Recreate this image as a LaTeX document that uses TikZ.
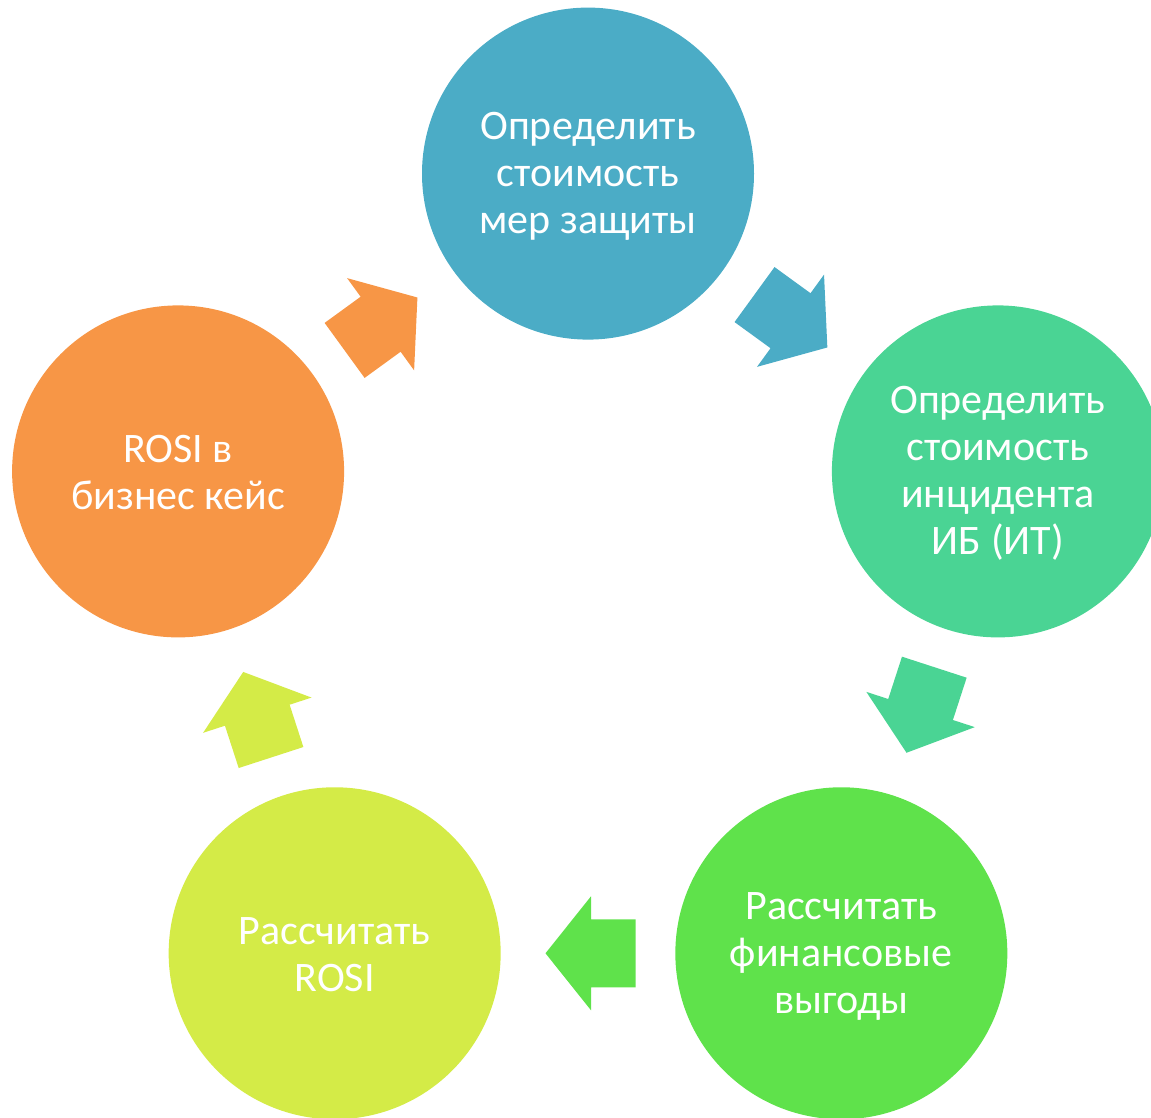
\documentclass[tikz,border=0pt]{standalone}
\usepackage{fontspec}
\setmainfont{Carlito}
\definecolor{cA}{HTML}{4BACC6}
\definecolor{cB}{HTML}{4AD494}
\definecolor{cC}{HTML}{5FE24B}
\definecolor{cD}{HTML}{D4EB47}
\definecolor{cE}{HTML}{F79646}
\tikzset{
  circ/.style={circle, minimum size=332pt, inner sep=0pt, draw=none},
  txt/.style={inner sep=0pt, text=white, align=center, font=\fontsize{42}{47}\selectfont},
  blockarrow/.pic={\fill (-47.5pt,-34pt) -- (-3pt,-34pt) -- (-3pt,-57pt) -- (42.5pt,0pt) -- (-3pt,57pt) -- (-3pt,34pt) -- (-47.5pt,34pt) -- cycle;}
}
\begin{document}
\begin{tikzpicture}
\useasboundingbox (0,0) rectangle (1151pt,1117pt);
\clip (0,0) rectangle (1151pt,1117pt);
\coordinate (O) at (588pt,512.4pt);
\node[circ, fill=cA] (n1) at ([shift={(90:431pt)}]O) {};
\node[circ, fill=cB] (n2) at ([shift={(18:431pt)}]O) {};
\node[circ, fill=cC] (n3) at ([shift={(-54:431pt)}]O) {};
\node[circ, fill=cD] (n4) at ([shift={(-126:431pt)}]O) {};
\node[circ, fill=cE] (n5) at ([shift={(162:431pt)}]O) {};
\node[txt] (t1) at ([yshift=-3pt]n1.center) {Определить\\стоимость\\мер защиты};
\node[txt] (t2) at ([yshift=-2pt]n2.center) {Определить\\стоимость\\инцидента\\ИБ (ИТ)};
\node[txt] (t3) at ([yshift=-3pt]n3.center) {Рассчитать\\финансовые\\выгоды};
\node[txt] (t4) at ([yshift=-1pt]n4.center) {Рассчитать\\ROSI};
\node[txt] (t5) at ([yshift=-1pt]n5.center) {ROSI в\\бизнес кейс};
\pic[fill=cA, rotate=-36] (a1) at ([shift={(54:348.7pt)}]O) {blockarrow};
\pic[fill=cB, rotate=-108] (a2) at ([shift={(-18:348.7pt)}]O) {blockarrow};
\pic[fill=cC, rotate=180] (a3) at ([shift={(-90:348.7pt)}]O) {blockarrow};
\pic[fill=cD, rotate=108] (a4) at ([shift={(-162:348.7pt)}]O) {blockarrow};
\pic[fill=cE, rotate=36] (a5) at ([shift={(126:348.7pt)}]O) {blockarrow};
\end{tikzpicture}
\end{document}
